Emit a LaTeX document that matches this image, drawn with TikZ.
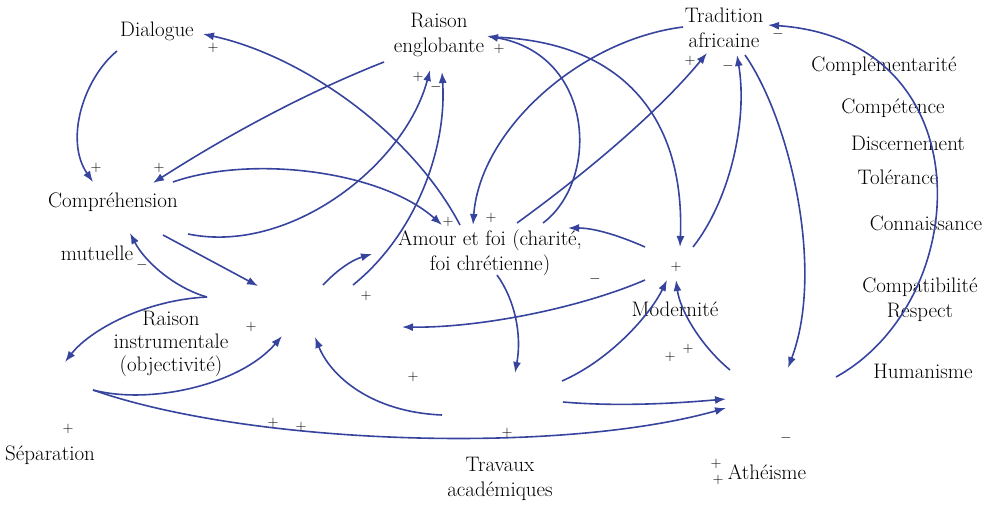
\documentclass[tikz,border=0pt]{standalone}
\usepackage{tikz}
\usetikzlibrary{arrows.meta}
\usepackage{xcolor}
\definecolor{loopblue}{RGB}{55,68,158}
\tikzset{>={Latex[length=11pt,width=8pt]}}
\tikzstyle{link}=[->,line width=1.6pt,draw=loopblue]
\tikzstyle{concept}=[align=center,inner sep=1pt,font=\fontsize{21}{25}\selectfont]
\tikzstyle{polarity}=[inner sep=0.5pt,font=\fontsize{14}{16}\selectfont]

\begin{document}
\begin{tikzpicture}[x=1pt, y=-1pt]
\useasboundingbox (0,0) rectangle (995,505);

% concepts
\foreach \n/\a/\b/\t in {dialogue/157/31/Dialogue,
    englobante/439/35/{Raison\\ englobante},
    comprehension/113/202/Compréhension,
    mutuelle/97/253/mutuelle,
    amour/490/253/{Amour et foi (charité,\\ foi chrétienne)},
    tradition/724/28/{Tradition\\ africaine},
    complem/884/66/Complémentarité,
    competence/893/108/Compétence,
    discern/908/143/Discernement,
    tolerance/898/177/Tolérance,
    connais/926/223/Connaissance,
    compat/920/300/{Compatibilité\\ Respect},
    humanisme/923/371/Humanisme,
    modernite/675/309/Modernité,
    atheisme/767/472/Athéisme,
    travaux/500/479/{Travaux\\ académiques},
    separation/50/455/Séparation}
  \node [concept] (\n) at (\a,\b) {\t};

\node [concept, font=\fontsize{21}{23}\selectfont] (instrumentale) at (171,344)
  {Raison\\ instrumentale\\ (objectivité)};

% free ends of the links
\foreach \n/\a/\b in {dia-out/117/51, dia-in/203/34,
    comp-in-a/93/182, comp-in-b/153/183, comp-in-c/130/233,
    comp-out-a/173/182, comp-out-b/188/234, comp-out-c/163/235,
    engl-out-a/384/62, engl-out-b/490/37,
    engl-in-a/430/70, engl-in-b/442/72, engl-in-c/487/36,
    amour-in-a/442/225, amour-in-b/568/228, amour-in-c/473/225,
    amour-out-a/460/225, amour-out-b/543/223, amour-out-c/517/223, amour-out-d/497/275,
    mid-in-a/258/286, mid-in-b/282/336, mid-in-c/315/337, mid-in-d/372/254, mid-in-e/402/327,
    mid-out-a/353/285, mid-out-b/323/285,
    instr-out/207/297, sep-in/65/362, sep-out/93/390,
    trav-in/515/373, trav-out-a/442/415, trav-out-b/562/381, trav-out-c/563/402,
    mod-in-a/680/247, mod-in-b/667/280, mod-in-c/676/280,
    mod-out-a/645/280, mod-out-b/645/247, mod-out-c/693/247,
    trad-in-a/707/53, trad-in-b/737/55, trad-in-c/768/25,
    trad-out-a/683/27, trad-out-b/745/55,
    ath-in-a/788/368, ath-in-b/726/408, ath-in-c/726/399, ath-out/730/370,
    hum-out/836/377}
  \coordinate (\n) at (\a,\b);

% links
\draw [link] (dia-out) .. controls (84,78) and (64,140) .. (comp-in-a);
\draw [link] (amour-out-a) .. controls (410,130) and (300,55) .. (dia-in);
\draw [link] (engl-out-a) .. controls (300,95) and (220,140) .. (comp-in-b);
\draw [link] (comp-out-a) .. controls (250,155) and (380,170) .. (amour-in-a);
\draw [link] (comp-out-b) .. controls (290,255) and (405,165) .. (engl-in-a);
\draw [link] (mid-out-a) .. controls (415,235) and (447,150) .. (engl-in-b);
\draw [link] (comp-out-c) -- (mid-in-a);
\draw [link] (instr-out) .. controls (175,288) and (145,262) .. (comp-in-c);
\draw [link] (instr-out) .. controls (145,300) and (90,330) .. (sep-in);
\draw [link] (sep-out) .. controls (150,405) and (240,385) .. (mid-in-b);
\draw [link] (sep-out) .. controls (250,445) and (560,455) .. (ath-in-b);
\draw [link] (trav-out-a) .. controls (370,412) and (330,375) .. (mid-in-c);
\draw [link] (mid-out-b) .. controls (337,270) and (352,260) .. (mid-in-d);
\draw [link] (amour-out-d) .. controls (515,300) and (522,335) .. (trav-in);
\draw [link] (mod-out-a) .. controls (580,308) and (480,328) .. (mid-in-e);
\draw [link] (mod-out-b) .. controls (620,236) and (595,228) .. (amour-in-b);
\draw [link] (engl-out-b) .. controls (625,40) and (685,120) .. (mod-in-a);
\draw [link] (amour-out-b) .. controls (600,180) and (595,55) .. (engl-in-c);
\draw [link] (trad-out-a) .. controls (580,40) and (480,130) .. (amour-in-c);
\draw [link] (amour-out-c) .. controls (590,170) and (660,110) .. (trad-in-a);
\draw [link] (mod-out-c) .. controls (730,200) and (748,120) .. (trad-in-b);
\draw [link] (trad-out-b) .. controls (790,120) and (825,270) .. (ath-in-a);
\draw [link] (hum-out) .. controls (975,300) and (985,40) .. (trad-in-c);
\draw [link] (trav-out-b) .. controls (610,360) and (650,315) .. (mod-in-b);
\draw [link] (ath-out) .. controls (700,345) and (680,310) .. (mod-in-c);
\draw [link] (trav-out-c) .. controls (620,407) and (680,403) .. (ath-in-c);

% signs
\foreach \s/\a/\b [count=\i] in {+/213/48, +/499/49, +/418/77, -/436/87,
    +/96/168, +/159/168, +/448/222, +/491/218, -/778/34, +/690/61, -/728/66,
    -/142/265, +/366/296, +/251/327, +/413/377, +/273/423, +/301/427, +/68/429,
    +/676/267, -/595/279, +/670/357, +/688/349, +/507/433, -/786/438,
    +/716/464, +/718/480}
  \node [polarity] (sign-\i) at (\a,\b) {$\s$};

\end{tikzpicture}
\end{document}
